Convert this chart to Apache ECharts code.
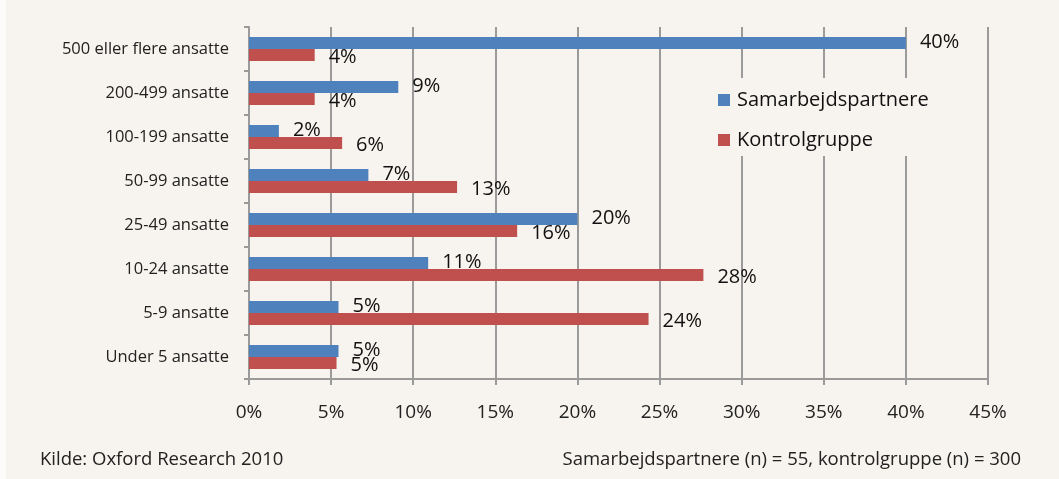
<!DOCTYPE html>
<html><head><meta charset="utf-8">
<style>html,body{margin:0;padding:0;background:#f7f3ee;}#c{width:1059px;height:479px;}</style>
<script src="https://cdn.jsdelivr.net/npm/echarts@6/dist/echarts.min.js"></script>
</head><body><div id="c"></div>
<script>
const categories = ['500 eller flere ansatte','200-499 ansatte','100-199 ansatte','50-99 ansatte','25-49 ansatte','10-24 ansatte','5-9 ansatte','Under 5 ansatte'];
const samarbejd = [40.0, 9.09, 1.82, 7.27, 20.0, 10.91, 5.45, 5.45];
const kontrol = [4.0, 4.0, 5.67, 12.67, 16.33, 27.67, 24.33, 5.33];
const xTicks = [0,5,10,15,20,25,30,35,40,45];
const source = 'Kilde: Oxford Research 2010';
const note = 'Samarbejdspartnere (n) = 55, kontrolgruppe (n) = 300';
const font = 'Open Sans';
const chart = echarts.init(document.getElementById('c'));
chart.setOption({
  backgroundColor: '#f7f3ee',
  animation: false,
  textStyle: {fontFamily: font},
  grid: {left: 249, right: 71, top: 27, bottom: 100},
  legend: {
    orient: 'vertical', left: 710, top: 78, icon: 'rect', itemWidth: 12, itemHeight: 12, itemGap: 20,
    backgroundColor: '#f7f3ee', padding: [12, 14, 6, 8],
    textStyle: {fontSize: 20, color: '#111', fontFamily: font, padding: [0, 0, 0, 2]},
    data: ['Samarbejdspartnere','Kontrolgruppe']
  },
  xAxis: {
    type: 'value', min: xTicks[0], max: xTicks[xTicks.length-1], interval: 5,
    axisLine: {show: true, lineStyle: {color: '#9a9a9a', width: 2}},
    axisTick: {show: true, length: 6, lineStyle: {color: '#9a9a9a', width: 2}},
    splitLine: {show: true, lineStyle: {color: '#9a9a9a', width: 2}},
    axisLabel: {formatter: v => v + '%', fontSize: 19, color: '#222', margin: 24}
  },
  yAxis: {
    type: 'category', inverse: true, data: categories,
    axisLine: {show: true, lineStyle: {color: '#9a9a9a', width: 2}},
    axisTick: {show: true, length: 5, lineStyle: {color: '#9a9a9a', width: 2}},
    axisLabel: {fontSize: 16.5, color: '#222', margin: 20}
  },
  series: [
    {name: 'Samarbejdspartnere', type: 'bar', data: samarbejd, barWidth: 12, barGap: '0%',
     itemStyle: {color: '#4f81bd'},
     label: {show: true, position: 'right', distance: 14, offset: [0, -1], fontSize: 20, color: '#111',
       formatter: p => Math.round(p.value) + '%'}},
    {name: 'Kontrolgruppe', type: 'bar', data: kontrol, barWidth: 12, barGap: '0%',
     itemStyle: {color: '#c0504d'},
     label: {show: true, position: 'right', distance: 14, offset: [0, 2], fontSize: 20, color: '#111',
       formatter: p => Math.round(p.value) + '%'}}
  ],
  graphic: [
    {type: 'rect', left: 0, top: 0, shape: {width: 6, height: 479}, style: {fill: '#fdfcfa'}},
    {type: 'text', left: 40, top: 450, style: {text: source, fontSize: 18.5, fill: '#222', fontFamily: font}},
    {type: 'text', right: 38, top: 450, style: {text: note, fontSize: 18.5, fill: '#222', fontFamily: font}}
  ]
});
</script></body></html>
